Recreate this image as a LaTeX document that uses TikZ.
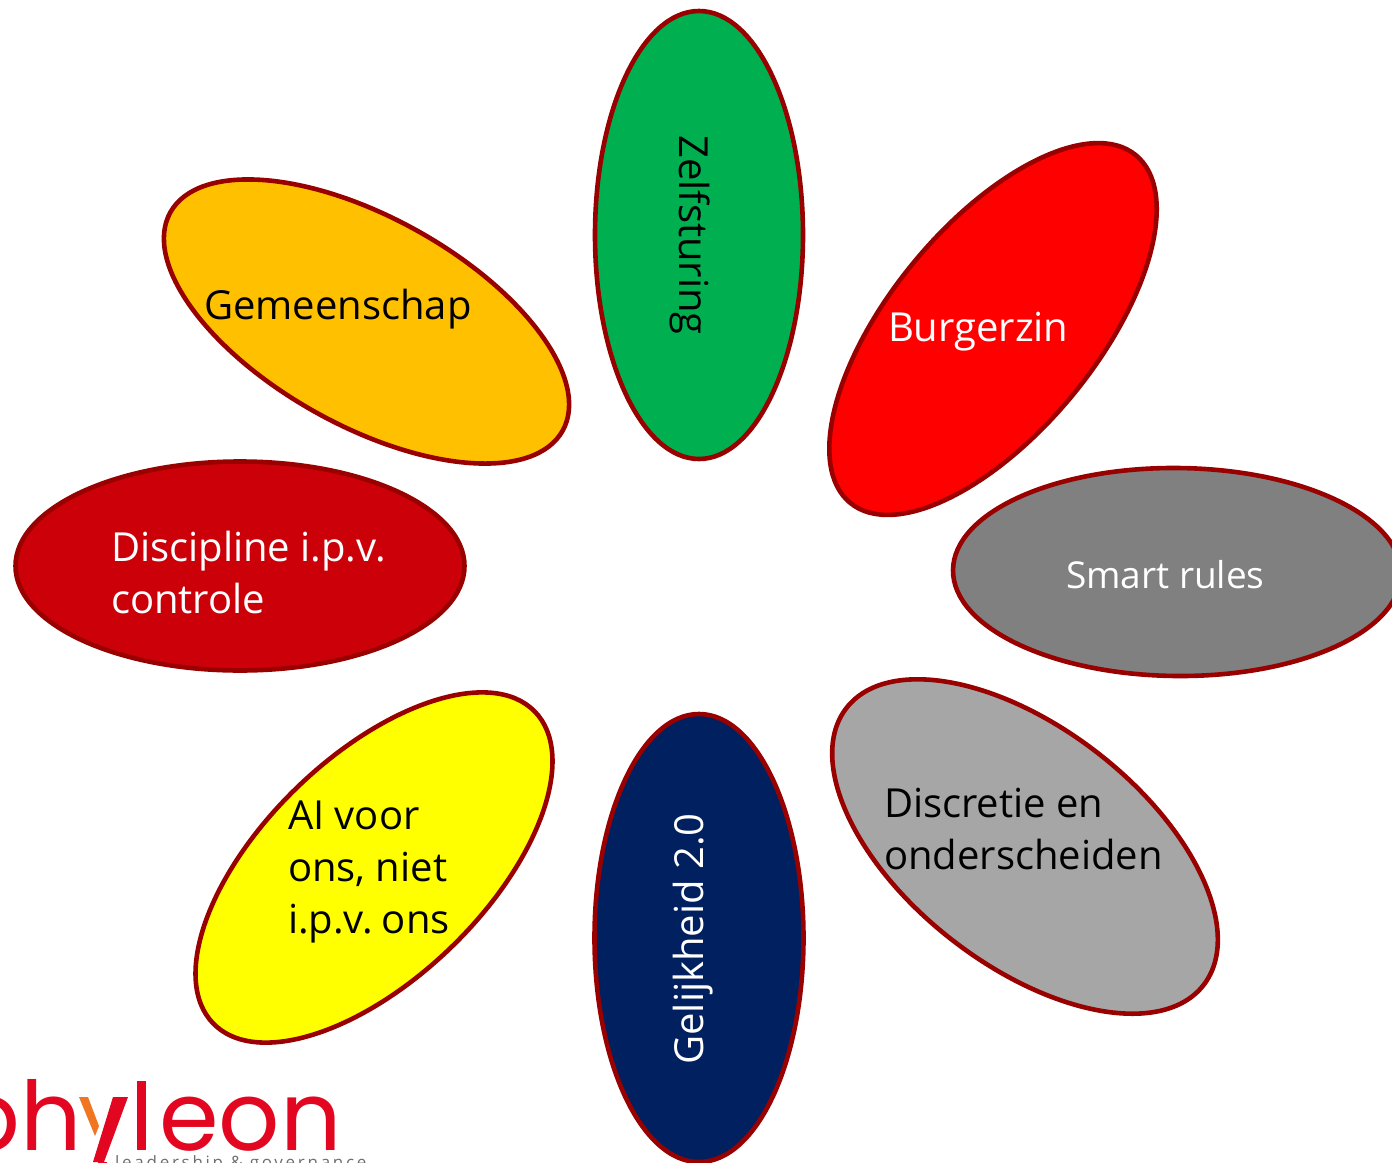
\documentclass[tikz,border=0pt]{standalone}
\usepackage{fontspec}
\setmainfont{Open Sans}
\newfontfamily\logofont{Poppins}
\usetikzlibrary{shapes.geometric}
\definecolor{petalline}{HTML}{990000}
\definecolor{pgreen}{HTML}{00B050}
\definecolor{pred}{HTML}{FF0000}
\definecolor{pyellow}{HTML}{FFFF00}
\definecolor{pgrey}{HTML}{808080}
\definecolor{plight}{HTML}{A6A6A6}
\definecolor{pnavy}{HTML}{002060}
\definecolor{pdark}{HTML}{CC0008}
\definecolor{pamber}{HTML}{FFC000}
\definecolor{logored}{HTML}{E20620}
\definecolor{logoorange}{HTML}{F17622}
\definecolor{logogrey}{HTML}{6E6E6E}
\tikzset{
  petal/.style={ellipse,draw=petalline,line width=4.6pt,inner sep=0pt,outer sep=0pt},
  petaltext/.style={font=\fontsize{40}{52}\selectfont,align=left,inner sep=0pt,outer sep=0pt},
}
\begin{document}
\begin{tikzpicture}[x=1pt,y=-1pt]
\clip (0,0) rectangle (1392,1162);
\useasboundingbox (0,0) rectangle (1392,1162);
\node[petal,fill=pgreen,minimum width=448pt,minimum height=208pt,rotate=90] (zelf) at (699,235) {};
\node[petal,fill=pred,minimum width=450pt,minimum height=207pt,rotate=50.6] (burger) at (993,329) {};
\node[petal,fill=pgrey,minimum width=448pt,minimum height=208pt,rotate=-0.5] (smart) at (1177,572) {};
\node[petal,fill=plight,minimum width=452pt,minimum height=237pt,rotate=-37.8] (discretie) at (1025,846.5) {};
\node[petal,fill=pnavy,minimum width=448pt,minimum height=209pt,rotate=90] (gelijk) at (699,938) {};
\node[petal,fill=pyellow,minimum width=448pt,minimum height=222pt,rotate=44.1] (ai) at (374,867.5) {};
\node[petal,fill=pdark,minimum width=449pt,minimum height=209pt] (discipline) at (240,566) {};
\node[petal,fill=pamber,minimum width=449pt,minimum height=208pt,rotate=-29.1] (gemeen) at (366.5,321.5) {};
\node[petaltext,rotate=-90] (zelfT) at (690,235) {Zelfsturing};
\node[petaltext,text=white,anchor=west] (burgerT) at (888,332) {Burgerzin};
\node[petaltext,text=white,anchor=west,font=\fontsize{37}{52}\selectfont] (smartT) at (1066,575) {Smart rules};
\node[petaltext,anchor=west] (discretieT) at (884,829) {Discretie en\\onderscheiden};
\node[petaltext,text=white,rotate=90] (gelijkT) at (693,939) {Gelijkheid 2.0};
\node[petaltext,anchor=west] (aiT) at (288,872) {AI voor\\ons, niet\\i.p.v.\kern-5pt{} ons};
\node[petaltext,text=white,anchor=west] (disciplineT) at (111,572) {Discipline i.p.v.\\controle};
\node[petaltext,anchor=west] (gemeenT) at (204,309) {Gemeenschap};
\node[anchor=base east,inner sep=0pt,text=logored,font=\logofont\fontsize{96}{96}\selectfont] (logo) at (342,1150) {phyleon};
\fill[white] (76,1070) rectangle (152,1162);
\fill[logoorange] (79,1097) -- (88,1097) -- (99,1126) -- (95,1136) -- cycle;
\fill[logored] (113,1097) -- (128,1097) -- (104,1162) -- (93,1162) -- cycle;
\fill[logored] (137,1081) rectangle (146,1150);
\node[anchor=base west,inner sep=0pt,text=logogrey,font=\addfontfeature{LetterSpace=16}\fontsize{17}{17}\selectfont] (tag) at (115,1168) {leadership \& governance};
\end{tikzpicture}
\end{document}
